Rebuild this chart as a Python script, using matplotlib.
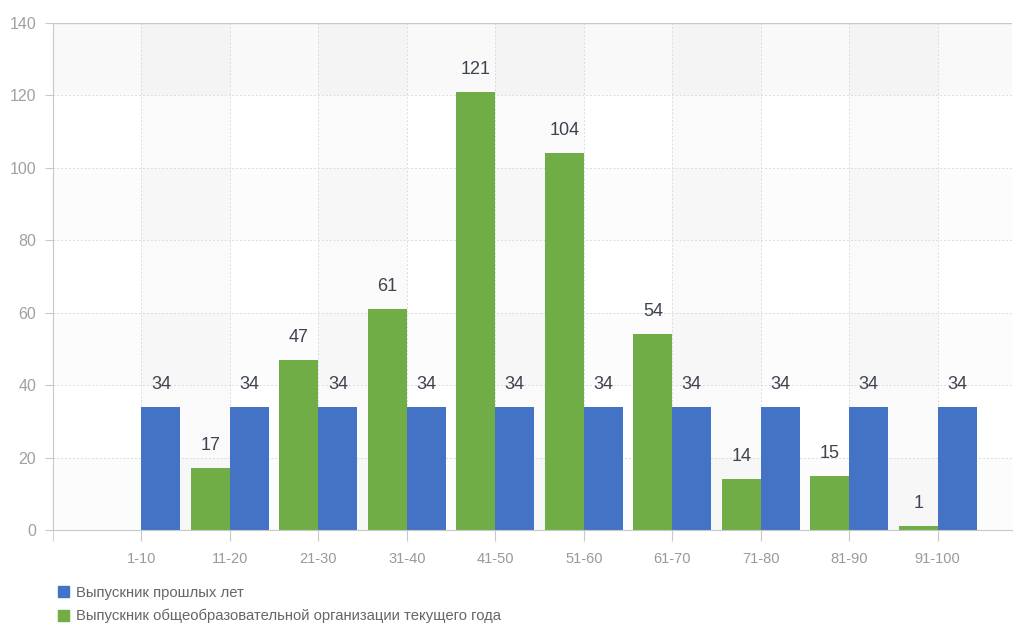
import numpy as np
import matplotlib
matplotlib.use('Agg')
import matplotlib.pyplot as plt
from matplotlib.patches import Patch

plt.rcParams['font.family'] = ['Liberation Sans', 'DejaVu Sans']

# Диапазоны баллов
categories = ['1-10', '11-20', '21-30', '31-40', '41-50',
              '51-60', '61-70', '71-80', '81-90', '91-100']
# Выпускники прошлых лет
past = [34, 34, 34, 34, 34, 34, 34, 34, 34, 34]
# Выпускники текущего года (в 1-10 нет)
current = [0, 17, 47, 61, 121, 104, 54, 14, 15, 1]

label_past = 'Выпускник прошлых лет'
label_current = 'Выпускник общеобразовательной организации текущего года'

blue = '#4472C4'
green = '#70AD47'

fig = plt.figure(figsize=(10.14, 6.23), dpi=100)
ax = fig.add_axes([53/1014, 93/623, 959/1014, 507/623])

x = np.arange(len(categories))
w = 0.44

# Чередующиеся полосы фона
for y0 in range(0, 140, 40):
    ax.axhspan(y0, y0 + 20, color='black', alpha=0.012, lw=0, zorder=0)
ax.axhspan(120, 140, color='black', alpha=0.012, lw=0, zorder=0)
for c in range(0, len(categories), 2):
    ax.axvspan(c, c + 1, color='black', alpha=0.018, lw=0, zorder=0)

# Сетка
for yv in range(20, 140, 20):
    ax.axhline(yv, color='#dcdcdc', lw=0.7, ls=(0, (2, 2)), zorder=1)
for xv in x:
    ax.axvline(xv, color='#dcdcdc', lw=0.7, ls=(0, (2, 2)), zorder=1)
ax.axhline(140, color='#c8c8c8', lw=1.0, zorder=1)

# Столбцы: зелёные слева от метки, синие справа
ax.bar(x, current, width=-w, align='edge', color=green, zorder=2)
ax.bar(x, past, width=w, align='edge', color=blue, zorder=2)

# Подписи значений
for xi, v in zip(x, current):
    if v > 0:
        ax.annotate(str(v), (xi - w / 2, v), xytext=(0, 13), textcoords='offset points',
                    ha='center', va='baseline', fontsize=13, color='#3d4450')
for xi, v in zip(x, past):
    ax.annotate(str(v), (xi + w / 2, v), xytext=(0, 13), textcoords='offset points',
                ha='center', va='baseline', fontsize=13, color='#3d4450')

ax.set_xlim(-1, 9.84)
ax.set_ylim(0, 140)
ax.set_yticks(range(0, 141, 20))
ax.set_xticks(x)
ax.set_xticklabels(categories)
ax.set_xticks([-1], minor=True)

ax.tick_params(axis='y', length=6, color='#c8c8c8', labelcolor='#a0a0a0',
               labelsize=11.5, pad=6)
ax.tick_params(axis='x', which='both', length=8, color='#c8c8c8', labelcolor='#999999',
               labelsize=10.5, pad=8)

for side in ['top', 'right']:
    ax.spines[side].set_visible(False)
ax.spines['left'].set_color('#c8c8c8')
ax.spines['bottom'].set_color('#c8c8c8')

# Легенда
handles = [Patch(color=blue, label=label_past), Patch(color=green, label=label_current)]
fig.legend(handles=handles, loc='upper left', bbox_to_anchor=(58/1014, 1 - 586/623),
           frameon=False, fontsize=10.7, labelcolor='#666666', handlelength=0.75,
           handleheight=0.75, handletextpad=0.45, labelspacing=0.6, borderaxespad=0,
           borderpad=0)

fig.savefig('out.png', dpi=100, facecolor='white')
